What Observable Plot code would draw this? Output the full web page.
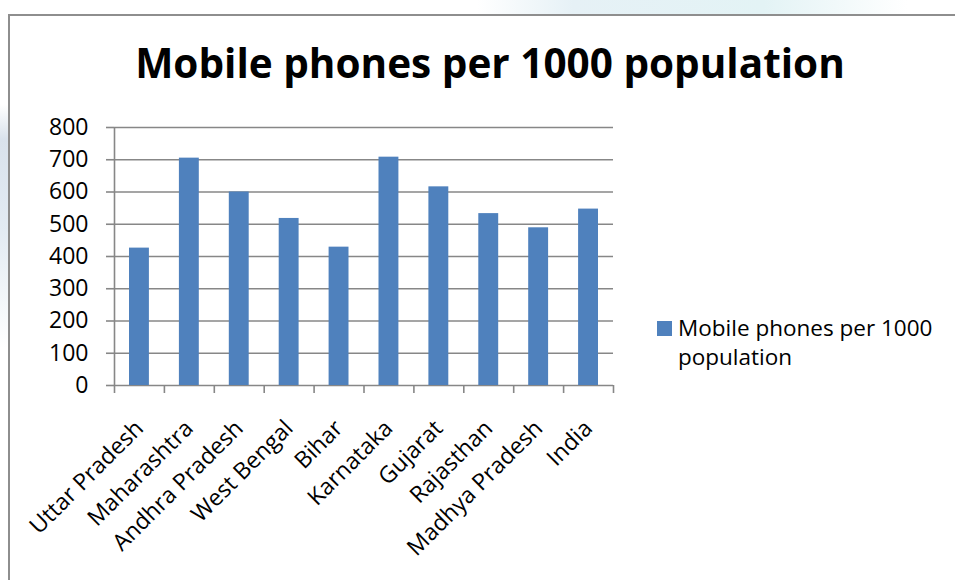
<!DOCTYPE html>
<html>
<head>
<meta charset="utf-8">
<script src="https://cdn.jsdelivr.net/npm/d3@7"></script>
<script src="https://cdn.jsdelivr.net/npm/@observablehq/plot@0.6"></script>
<style>
  html, body { margin: 0; padding: 0; background: #fff; }
  #wrap { position: relative; width: 955px; height: 580px; overflow: hidden;
    font-family: "Open Sans", "Noto Sans", sans-serif; color: #000;
    background:
      linear-gradient(to bottom, rgba(255,255,255,0) 0px, rgba(255,255,255,0) 14px, #fff 14px),
      linear-gradient(to right, #fff 50%, #e6f1f6 60%, #e3f3f5 80%, #fff 95%);
  }
  #leftstrip { position: absolute; left: 0; top: 0; width: 8px; height: 580px;
    background: linear-gradient(to bottom, #fff 18%, #d9e2ec 24%, #e3ebf3 40%, #f3f7fa 52%, #fff 60%); }
  #frame { position: absolute; left: 8px; top: 14px; width: 960px; height: 600px;
    border-left: 2px solid #8e8e8e; border-top: 2px solid #8e8e8e; background: #fff; box-sizing: border-box; }
  #chart { position: absolute; left: 0; top: 0; }
  #title { position: absolute; left: 0; width: 980px; top: 43px; text-align: center;
    font-size: 40.5px; font-weight: 700; line-height: 40px; white-space: nowrap; }
  #legend { position: absolute; left: 657px; top: 314px; font-size: 22.5px; }
  #legend .sw { position: absolute; left: 0; top: 7px; width: 15px; height: 15px; background: #4F81BD; }
  #legend .tx { position: absolute; left: 21px; white-space: nowrap; line-height: 28px; height: 28px; }
</style>
</head>
<body>
<div id="wrap">
  <div id="leftstrip"></div>
  <div id="frame"></div>
  <div id="chart"></div>
  <div id="title">Mobile phones per 1000 population</div>
  <div id="legend"><div class="sw"></div><div class="tx" style="top:0">Mobile phones per 1000</div><div class="tx" style="top:29px">population</div></div>
</div>
<script>
const categories = ["Uttar Pradesh", "Maharashtra", "Andhra Pradesh", "West Bengal", "Bihar",
  "Karnataka", "Gujarat", "Rajasthan", "Madhya Pradesh", "India"];
const values = [426, 705, 600, 518, 429, 708, 616, 533, 489, 547];
const yTicks = [0, 100, 200, 300, 400, 500, 600, 700, 800];
const seriesName = "Mobile phones per 1000 population";

const data = categories.map((c, i) => ({category: c, index: i, value: values[i]}));
const boundaries = d3.range(categories.length + 1);
const gray = "#878787";

const chart = Plot.plot({
  width: 955,
  height: 580,
  marginLeft: 114,
  marginRight: 342,
  marginTop: 127,
  marginBottom: 195,
  style: {fontFamily: "'Open Sans', 'Noto Sans', sans-serif", color: "#000", background: "transparent", overflow: "visible"},
  x: {type: "linear", domain: [0, categories.length], label: null},
  y: {domain: [0, 800], label: null},
  marks: [
    Plot.ruleY(yTicks, {stroke: gray, strokeWidth: 1.6}),
    Plot.rectY(data, {x1: "index", x2: d => d.index + 1, y: "value", fill: "#4F81BD", insetLeft: 15, insetRight: 15}),
    Plot.ruleX([0], {y1: 0, y2: 800, stroke: gray, strokeWidth: 1.6}),
    Plot.axisY({ticks: yTicks, tickSize: 8, tickPadding: 18, fontSize: 23, stroke: gray, strokeWidth: 1.6, fill: "#000", label: null}),
    Plot.axisX({ticks: boundaries, tickSize: 8, tickFormat: () => "", stroke: gray, strokeWidth: 1.6, label: null}),
    Plot.text(data, {x: d => d.index + 0.5, y: d => 0, text: "category", rotate: -45, textAnchor: "end",
      lineAnchor: "middle", dy: 39, fontSize: 23, fill: "#000"})
  ]
});
document.getElementById("chart").appendChild(chart);
</script>
</body>
</html>
